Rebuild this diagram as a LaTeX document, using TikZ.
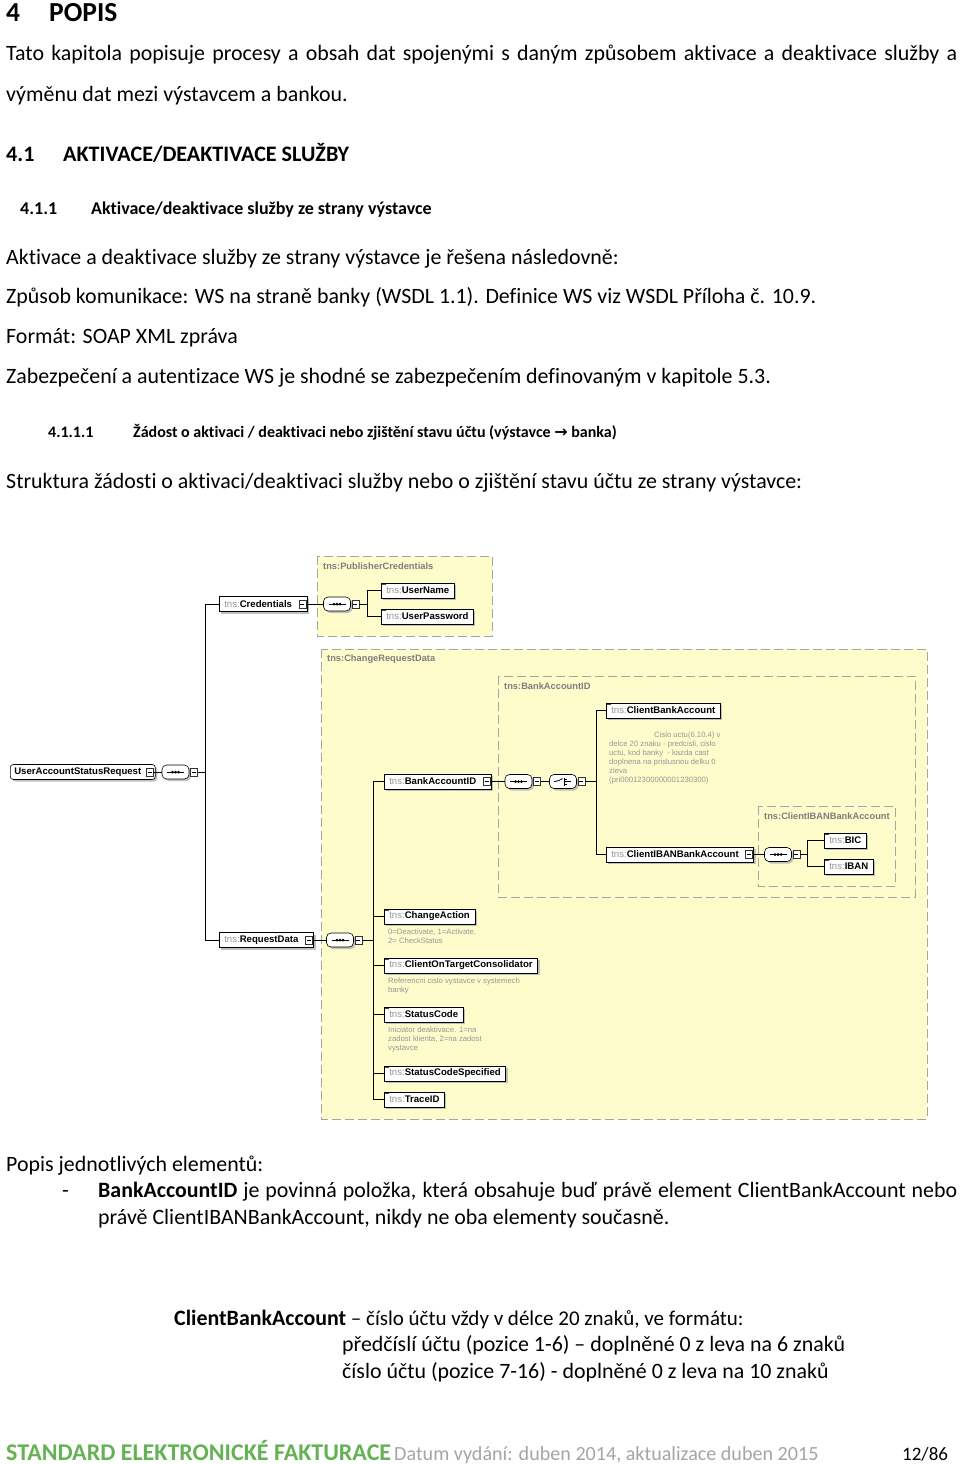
\documentclass[tikz,border=0pt]{standalone}
\usepackage{fontspec}
\setmainfont{Carlito}[Ligatures={NoCommon}]
\newfontfamily\xsfont{Liberation Sans}
\newfontfamily\arrowfont{DejaVu Sans}
\usetikzlibrary{shadows,calc}
\definecolor{yel}{RGB}{255,252,204}
\definecolor{dashgray}{RGB}{165,165,165}
\definecolor{lblgray}{RGB}{125,125,125}
\definecolor{tnsgray}{RGB}{150,150,150}
\definecolor{anngray}{RGB}{150,150,150}
\definecolor{fgreen}{RGB}{100,178,84}
\definecolor{fgray}{RGB}{165,165,165}
\newcommand{\tns}[1]{{\color{tnsgray}tns:}\textbf{#1}}
\newcommand{\mpad}{\kern10pt}
\tikzset{
  body/.style={anchor=base west, inner sep=0pt, font=\fontsize{21.9}{25}\selectfont},
  hone/.style={anchor=base west, inner sep=0pt, font=\bfseries\fontsize{27.5}{30}\selectfont},
  htwo/.style={anchor=base west, inner sep=0pt, font=\bfseries\fontsize{22.1}{26}\selectfont},
  hthree/.style={anchor=base west, inner sep=0pt, font=\bfseries\fontsize{18}{20}\selectfont},
  hfour/.style={anchor=base west, inner sep=0pt, font=\bfseries\fontsize{16}{19}\selectfont},
  grpbox/.style={draw=dashgray, line width=0.9pt, dash pattern=on 9pt off 4pt},
  grplbl/.style={anchor=west, inner sep=0pt, text=lblgray, font=\xsfont\bfseries\fontsize{9.3}{10}\selectfont},
  elbox/.style={draw=black, line width=0.6pt, fill=white, inner xsep=5pt, inner ysep=0pt,
     minimum height=15pt, anchor=west, font=\xsfont\fontsize{9.6}{10}\selectfont,
     drop shadow={shadow xshift=2pt, shadow yshift=-2pt, fill=gray!70, opacity=0.7}},
  simp/.style={path picture={\fill[black!70] (path picture bounding box.north west) rectangle ++(5pt,-2.2pt);}},
  minusbox/.style={draw=black!80, fill=white, minimum width=7pt, minimum height=8pt, inner sep=0pt, line width=0.5pt,
     path picture={\draw[black, line width=0.6pt] ([xshift=1.5pt]path picture bounding box.west) -- ([xshift=-1.5pt]path picture bounding box.east);}},
  compo/.style={draw=black, line width=0.6pt, fill=white, rounded corners=4.5pt, minimum width=27pt, minimum height=14pt, inner sep=0pt,
     drop shadow={shadow xshift=2pt, shadow yshift=-2pt, fill=gray!70, opacity=0.7}},
  seqsym/.style={compo, path picture={
     \draw[black, line width=1pt] ([xshift=5pt]path picture bounding box.west) -- ([xshift=-5pt]path picture bounding box.east);
     \foreach \d in {-3,0,3} \fill[black] ([xshift=\d pt]path picture bounding box.center) circle (1.5pt);}},
  chsym/.style={compo, path picture={
     \coordinate (cc) at (path picture bounding box.center);
     \draw[black, line width=0.8pt] ([xshift=-9pt]cc) -- ([xshift=-4pt]cc) -- ([xshift=-0.5pt,yshift=3pt]cc);
     \draw[black, line width=0.8pt] ([xshift=1pt,yshift=4pt]cc) -- ([xshift=1pt,yshift=-4pt]cc);
     \foreach \d in {-2.5,0,2.5} \draw[black, line width=0.8pt] ([xshift=1pt,yshift=\d pt]cc) -- ([xshift=4pt,yshift=\d pt]cc);
     \draw[black, line width=0.8pt] ([xshift=4pt]cc) -- ([xshift=8pt]cc);}},
  ann/.style={anchor=north west, inner sep=0pt, align=left, text=anngray, font=\xsfont\fontsize{7.7}{9}\selectfont},
  conn/.style={draw=black, line width=0.8pt},
}
\begin{document}
\begin{tikzpicture}[x=1pt,y=-1pt]
\useasboundingbox[fill=white] (0,0) rectangle (960,1464);

% ---------------- text ----------------
\node[hone] (h1n) at (6,22) {4};
\node[hone] (h1) at (49,22) {POPIS};
\node[body] (p1) at (6,61) {\makebox[951pt][s]{Tato kapitola popisuje procesy a obsah dat spojenými s daným způsobem aktivace a deaktivace služby a}};
\node[body] (p2) at (6,101) {výměnu dat mezi výstavcem a bankou.};
\node[htwo] (h2n) at (6,161) {4.1};
\node[htwo] (h2) at (63,161) {AKTIVACE/DEAKTIVACE SLUŽBY};
\node[hthree] (h3n) at (20,214) {4.1.1};
\node[hthree] (h3) at (91,214) {Aktivace/deaktivace služby ze strany výstavce};
\node[body] (p3) at (6,264) {Aktivace a deaktivace služby ze strany výstavce je řešena následovně:};
\node[body] (p4) at (6,303) {Způsob komunikace: WS na straně banky (WSDL 1.1). Definice WS viz WSDL Příloha č. 10.9.};
\node[body] (p5) at (6,343) {Formát: SOAP XML zpráva};
\node[body] (p6) at (6,383) {Zabezpečení a autentizace WS je shodné se zabezpečením definovaným v kapitole 5.3.};
\node[hfour] (h4n) at (48,437) {4.1.1.1};
\node[hfour] (h4) at (133,437) {Žádost o aktivaci / deaktivaci nebo zjištění stavu účtu (výstavce {\arrowfont\bfseries →} banka)};
\node[body] (p7) at (6,488) {Struktura žádosti o aktivaci/deaktivaci služby nebo o zjištění stavu účtu ze strany výstavce:};

\node[body] (p8) at (6,1171) {Popis jednotlivých elementů:};
\node[body] (dash) at (62,1197) {-};
\node[body] (p9) at (98,1197) {\makebox[859pt][s]{\textbf{BankAccountID} je povinná položka, která obsahuje buď právě element ClientBankAccount nebo}};
\node[body] (p10) at (98,1224) {právě ClientIBANBankAccount, nikdy ne oba elementy současně.};
\node[body] (p11) at (174,1325) {\textbf{ClientBankAccount}{\fontsize{21}{25}\selectfont{} – číslo účtu vždy v délce 20 znaků, ve formátu:}};
\node[body] (p12) at (342,1351) {předčíslí účtu (pozice 1-6) – doplněné 0 z leva na 6 znaků};
\node[body] (p13) at (342,1378) {číslo účtu (pozice 7-16) - doplněné 0 z leva na 10 znaků};

\node[anchor=base west, inner sep=0pt, text=fgreen, font=\bfseries\fontsize{24}{26}\selectfont] (f1) at (6,1460) {STANDARD ELEKTRONICKÉ FAKTURACE};
\node[anchor=base west, inner sep=0pt, text=fgray, font=\fontsize{20.1}{24}\selectfont] (f2) at (394,1460) {Datum vydání: duben 2014, aktualizace duben 2015};
\node[anchor=base west, inner sep=0pt, font=\fontsize{19}{24}\selectfont] (f3) at (902,1460) {12/86};

% ---------------- diagram: group boxes ----------------
\fill[yel] (317,556) rectangle (492,636);
\draw[grpbox] (317,556) rectangle (492,636);
\node[grplbl] (gl1) at (323,566) {tns:PublisherCredentials};

\fill[yel] (321,649) rectangle (927,1119);
\draw[grpbox] (321,649) rectangle (927,1119);
\node[grplbl] (gl2) at (327,659) {tns:ChangeRequestData};

\draw[grpbox, line width=0.7pt] (498,676) rectangle (915,897);
\node[grplbl] (gl3) at (504,686) {tns:BankAccountID};

\draw[grpbox, line width=0.7pt] (758,806) rectangle (895,886);
\node[grplbl] (gl4) at (764,816) {tns:ClientIBANBankAccount};

% ---------------- root ----------------
\node[elbox, rounded corners=3pt, inner xsep=4pt, font=\xsfont\bfseries\fontsize{9.6}{10}\selectfont] (root) at (10,772) {UserAccountStatusRequest\mpad};
\node[minusbox] (rootm) at ([xshift=-6pt]root.east) {};
\node[seqsym] (s0) at (175.5,772) {};
\node[minusbox] (s0m) at ([xshift=4.5pt]s0.east) {};
\draw[conn] (rootm.east) -- (s0.west);
\coordinate (t0) at (205,772);

% credentials
\node[elbox] (cred) at (219,604) {\tns{Credentials}\mpad};
\node[minusbox] (credm) at ([xshift=-5pt]cred.east) {};
\node[seqsym] (s1) at (337,604) {};
\node[minusbox] (s1m) at ([xshift=4.5pt]s1.east) {};
\draw[conn] (credm.east) -- (s1.west);
\node[elbox, simp] (un) at (381,590.5) {\tns{UserName}};
\node[elbox, simp] (up) at (381,616.5) {\tns{UserPassword}};
\draw[conn] (s1m.east) -- ++(8,0) |- (un.west);
\draw[conn] (s1m.east) -- ++(8,0) |- (up.west);

% request data
\node[elbox] (rd) at (219,940) {\tns{RequestData}\mpad};
\node[minusbox] (rdm) at ([xshift=-5pt]rd.east) {};
\node[seqsym] (s2) at (340,940) {};
\node[minusbox] (s2m) at ([xshift=4.5pt]s2.east) {};
\draw[conn] (rdm.east) -- (s2.west);

\draw[conn] (s0m.east) -- (t0) |- (cred.west);
\draw[conn] (t0) |- (rd.west);

% children of RequestData
\node[elbox] (bai) at (384,781.5) {\tns{BankAccountID}\mpad};
\node[minusbox] (baim) at ([xshift=-5pt]bai.east) {};
\node[elbox, simp] (ca) at (384,916.5) {\tns{ChangeAction}};
\node[ann] (caa) at (388,929) {0=Deactivate, 1=Activate,\\2= CheckStatus};
\node[elbox, simp] (cotc) at (384,965.5) {\tns{ClientOnTargetConsolidator}};
\node[ann] (cota) at (388,978) {Referencni cislo vystavce v systemech\\banky};
\node[elbox, simp] (sc) at (384,1014.5) {\tns{StatusCode}};
\node[ann] (sca) at (388,1027) {Iniciator deaktivace. 1=na\\zadost klienta, 2=na zadost\\vystavce};
\node[elbox, simp] (scs) at (384,1073.5) {\tns{StatusCodeSpecified}};
\node[elbox, simp] (tid) at (384,1099.5) {\tns{TraceID}};
\coordinate (t2) at (373,940);
\draw[conn] (s2m.east) -- (t2);
\foreach \c in {bai,ca,cotc,sc,scs,tid} \draw[conn] (t2) |- (\c.west);

% BankAccountID content
\node[seqsym] (s3) at (518.5,781.5) {};
\node[minusbox] (s3m) at ([xshift=4.5pt]s3.east) {};
\node[chsym] (c4) at (563,781.5) {};
\node[minusbox] (c4m) at ([xshift=4.5pt]c4.east) {};
\draw[conn] (baim.east) -- (s3.west);
\draw[conn] (s3m.east) -- (c4.west);
\node[elbox, simp] (cba) at (606,710.5) {\tns{ClientBankAccount}};
\node[ann] (cbaa) at (609,732) {\hspace{45pt}Cislo uctu(6.10.4) v\\delce 20 znaku - predcisli, cislo\\uctu, kod banky\ \ - kazda cast\\doplnena na prislusnou delku 0\\zleva\\(pri00012300000001230300)};
\node[elbox] (ciba) at (606,854.5) {\tns{ClientIBANBankAccount}\mpad};
\node[minusbox] (cibam) at ([xshift=-5pt]ciba.east) {};
\coordinate (t4) at (596,781.5);
\draw[conn] (c4m.east) -- (t4);
\draw[conn] (t4) |- (cba.west);
\draw[conn] (t4) |- (ciba.west);

% ClientIBANBankAccount content
\node[seqsym] (s5) at (778,854.5) {};
\node[minusbox] (s5m) at ([xshift=4.5pt]s5.east) {};
\draw[conn] (cibam.east) -- (s5.west);
\node[elbox, simp] (bic) at (824,840.5) {\tns{BIC}};
\node[elbox, simp] (iban) at (824,866.5) {\tns{IBAN}};
\draw[conn] (s5m.east) -- ++(7,0) |- (bic.west);
\draw[conn] (s5m.east) -- ++(7,0) |- (iban.west);
\end{tikzpicture}
\end{document}
